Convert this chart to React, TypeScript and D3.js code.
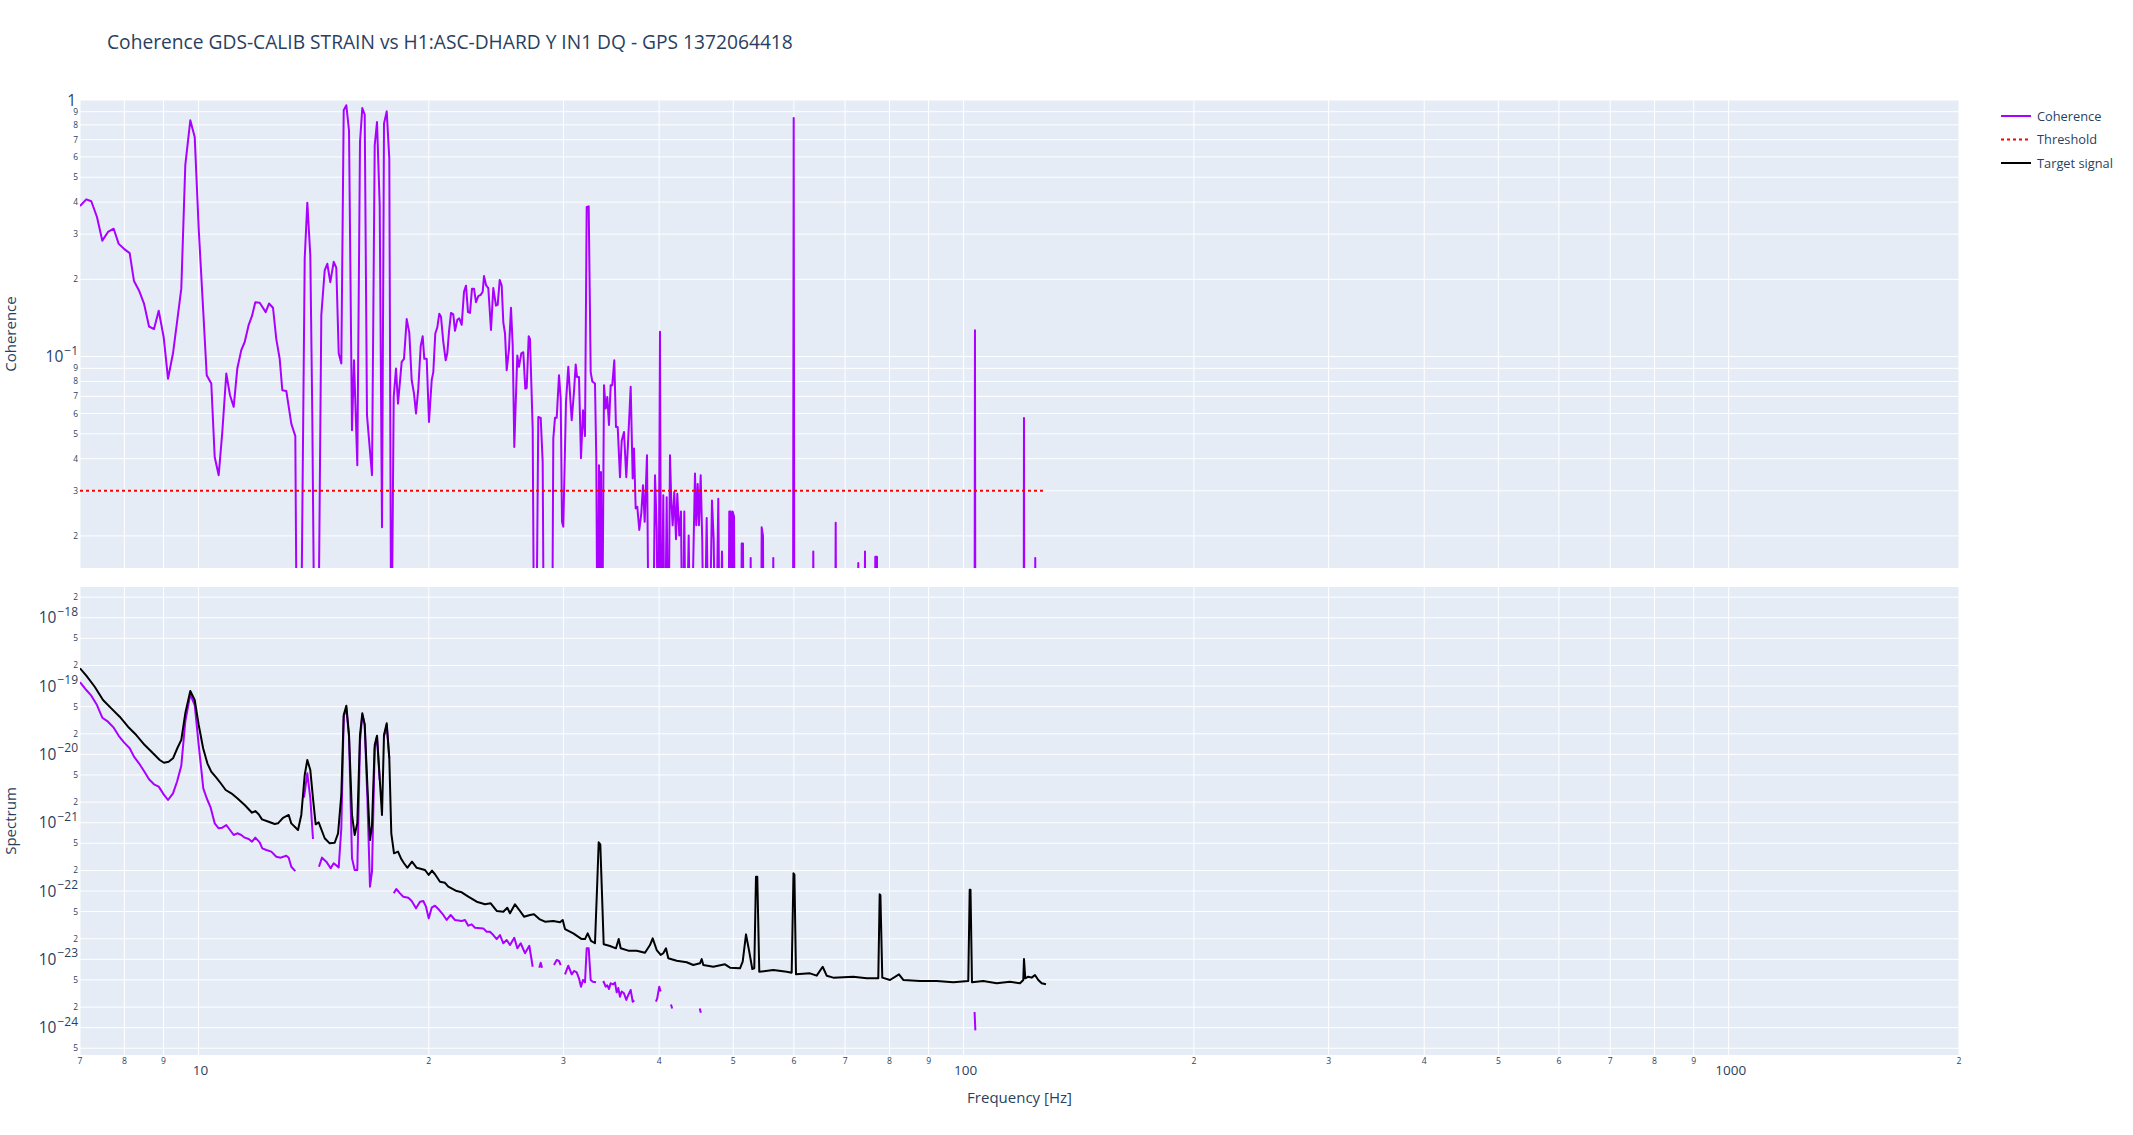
import React from "react";
import * as d3 from "d3";

const W = 2133;
const H = 1135;
const FONT = '"Open Sans", verdana, arial, sans-serif';
const TEXT = "#2a3f5f";
const PURPLE = "#aa00ff";
const BG = "#e5ecf6";

const titleText = "Coherence GDS-CALIB STRAIN vs H1:ASC-DHARD Y IN1 DQ - GPS 1372064418";
const xTitle = "Frequency [Hz]";
const cohTitle = "Coherence";
const specTitle = "Spectrum";
const legendLabels = ["Coherence", "Threshold", "Target signal"];

const threshold = 0.03;
const LOW = 0.005; // below the visible coherence range

// [frequency Hz, coherence]
const cohPoints: [number, number][] = [
  [7.0, 0.386], [7.134, 0.41], [7.242, 0.403], [7.367, 0.35], [7.486, 0.283], [7.615, 0.306], [7.747, 0.315],
  [7.865, 0.275], [7.991, 0.263], [8.129, 0.253], [8.235, 0.197], [8.36, 0.181], [8.487, 0.161], [8.616, 0.131],
  [8.746, 0.128], [8.871, 0.151], [9.005, 0.119], [9.123, 0.082], [9.261, 0.103], [9.373, 0.136], [9.495, 0.184],
  [9.61, 0.557], [9.756, 0.833], [9.886, 0.718], [10.006, 0.315], [10.145, 0.149], [10.25, 0.0846], [10.392, 0.0785],
  [10.499, 0.0406], [10.626, 0.0345], [10.742, 0.0508], [10.872, 0.0859], [10.994, 0.0707], [11.117, 0.0637],
  [11.238, 0.0898], [11.374, 0.106], [11.491, 0.114], [11.631, 0.133], [11.747, 0.144], [11.864, 0.163],
  [12.022, 0.162], [12.241, 0.149], [12.363, 0.161], [12.513, 0.155], [12.638, 0.117], [12.768, 0.098],
  [12.868, 0.074], [13.024, 0.0735], [13.221, 0.0548], [13.382, 0.049], [13.45, LOW], [13.601, LOW],
  [13.766, 0.241], [13.874, 0.398], [14.0, 0.248], [14.084, 0.059], [14.186, LOW], [14.328, LOW], [14.471, 0.145],
  [14.62, 0.217], [14.734, 0.23], [14.868, 0.195], [15.021, 0.234], [15.139, 0.222], [15.249, 0.103], [15.369, 0.094],
  [15.48, 0.912], [15.602, 0.954], [15.729, 0.762], [15.871, 0.0516], [15.967, 0.0967], [16.127, 0.0377],
  [16.258, 0.686], [16.371, 0.93], [16.49, 0.877], [16.604, 0.059], [16.856, 0.0345], [16.994, 0.666],
  [17.112, 0.821], [17.251, 0.389], [17.371, 0.0216], [17.476, 0.809], [17.619, 0.903], [17.757, 0.591],
  [17.864, LOW], [17.994, 0.0696], [18.119, 0.0898], [18.228, 0.0656], [18.432, 0.0954], [18.56, 0.098],
  [18.712, 0.14], [18.858, 0.124], [18.995, 0.0809], [19.127, 0.0718], [19.243, 0.06], [19.376, 0.075],
  [19.517, 0.11], [19.634, 0.12], [19.729, 0.098], [19.872, 0.098], [20.01, 0.0556], [20.174, 0.081],
  [20.271, 0.087], [20.393, 0.123], [20.517, 0.13], [20.64, 0.147], [20.746, 0.143], [20.89, 0.114],
  [21.042, 0.0967], [21.143, 0.103], [21.252, 0.125], [21.38, 0.148], [21.528, 0.146], [21.639, 0.126],
  [21.789, 0.139], [21.921, 0.141], [22.08, 0.133], [22.233, 0.179], [22.367, 0.189], [22.502, 0.149],
  [22.638, 0.148], [22.775, 0.184], [22.912, 0.184], [23.05, 0.163], [23.211, 0.172], [23.379, 0.174],
  [23.52, 0.179], [23.612, 0.206], [23.755, 0.19], [23.92, 0.185], [24.115, 0.127], [24.283, 0.185],
  [24.481, 0.158], [24.606, 0.159], [24.755, 0.199], [24.904, 0.189], [25.025, 0.136], [25.153, 0.123],
  [25.282, 0.0885], [25.457, 0.107], [25.611, 0.155], [25.742, 0.111], [25.867, 0.0444], [26.101, 0.101],
  [26.235, 0.0912], [26.417, 0.103], [26.577, 0.104], [26.737, 0.075], [26.85, 0.0754], [27.012, 0.12],
  [27.118, 0.117], [27.339, 0.0524], [27.471, LOW], [27.612, LOW], [27.804, 0.0582], [28.006, 0.0577],
  [28.175, 0.0388], [28.285, LOW], [28.975, LOW], [29.088, 0.0479], [29.237, 0.0577], [29.387, 0.0577],
  [29.592, 0.0846], [29.743, 0.0686], [29.86, 0.0227], [29.977, 0.0217], [30.222, 0.0665], [30.432, 0.0912],
  [30.745, 0.0565], [30.958, 0.073], [31.117, 0.0932], [31.239, 0.0833], [31.427, 0.0833], [31.617, 0.0402],
  [31.808, 0.0618], [32.0, 0.049], [32.164, 0.383], [32.358, 0.385], [32.553, 0.087], [32.711, 0.08],
  [32.977, 0.0785], [33.107, 0.04], [33.24, LOW], [33.377, 0.0377], [33.48, LOW], [33.578, 0.0355], [33.68, LOW],
  [33.883, 0.0774], [34.056, 0.0627], [34.221, 0.0696], [34.396, 0.0541], [34.573, 0.0774], [34.739, 0.0774],
  [34.949, 0.0967], [35.128, 0.0532], [35.309, 0.0532], [35.554, 0.0339], [35.736, 0.047], [35.984, 0.0508],
  [36.234, 0.0339], [36.42, 0.0457], [36.717, 0.0763], [36.939, 0.0335], [37.084, 0.0438], [37.274, 0.0256],
  [37.454, 0.026], [37.68, 0.0211], [37.908, 0.0245], [38.102, 0.0315], [38.298, 0.0227], [38.564, 0.0413],
  [38.797, LOW], [39.231, LOW], [39.504, 0.0345], [39.706, 0.0214], [39.898, LOW], [40.102, 0.125], [40.259, LOW],
  [40.502, 0.0288], [40.673, LOW], [40.919, 0.0283], [41.116, LOW], [41.327, 0.0413], [41.489, 0.0272],
  [41.664, 0.022], [41.865, 0.0297], [42.08, 0.0194], [42.245, 0.0292], [42.5, 0.0201], [42.718, 0.0249],
  [42.937, LOW], [43.145, 0.0249], [43.366, LOW], [43.72, 0.0201], [43.984, LOW], [44.557, 0.035], [44.731, 0.022],
  [44.92, 0.0319], [45.096, 0.022], [45.327, 0.0345], [45.546, 0.0189], [45.78, LOW], [46.153, 0.0235],
  [46.474, LOW], [46.895, 0.0275], [47.136, 0.0194], [47.42, LOW], [47.793, 0.0279], [48.038, LOW],
  [48.328, 0.0174], [48.62, LOW], [49.253, LOW], [49.4, 0.0249], [49.6, 0.0249], [49.8, LOW], [49.9, 0.0249],
  [50.105, 0.0238], [50.25, LOW], [51.17, LOW], [51.28, 0.0187], [51.481, 0.0187], [51.64, LOW], [52.56, LOW],
  [52.688, 0.0164], [52.81, LOW], [54.34, LOW], [54.462, 0.0216], [54.676, 0.02], [54.8, LOW], [56.27, LOW],
  [56.397, 0.0164], [56.52, LOW], [59.84, LOW], [59.968, 0.851], [60.09, LOW], [63.49, LOW], [63.612, 0.0174],
  [63.74, LOW], [67.92, LOW], [68.049, 0.0225], [68.18, LOW], [72.71, LOW], [72.838, 0.0157], [72.97, LOW],
  [74.2, LOW], [74.322, 0.0174], [74.45, LOW], [76.54, LOW], [76.662, 0.0166], [77.055, 0.0166], [77.18, LOW],
  [103.35, LOW], [103.48, 0.1266], [103.61, LOW], [119.8, LOW], [119.93, 0.0576], [120.06, LOW], [123.94, LOW],
  [124.07, 0.0164], [124.2, LOW], [128.135, LOW],
];

// [frequency Hz, target signal spectrum]
const targetPoints: [number, number][] = [
  [7.0, 1.82e-19], [7.134, 1.42e-19], [7.317, 9.77e-20], [7.502, 6.25e-20], [7.691, 4.72e-20], [7.888, 3.56e-20],
  [8.088, 2.54e-20], [8.292, 1.92e-20], [8.505, 1.37e-20], [8.72, 1.04e-20], [8.898, 8.28e-21], [9.013, 7.55e-21],
  [9.142, 7.82e-21], [9.261, 8.77e-21], [9.382, 1.23e-20], [9.495, 1.63e-20], [9.61, 3.99e-20], [9.756, 8.47e-20],
  [9.886, 6.25e-20], [10.006, 2.69e-20], [10.14, 1.23e-20], [10.27, 7.4e-21], [10.39, 5.58e-21], [10.55, 4.56e-21],
  [10.691, 3.78e-21], [10.852, 3.01e-21], [11.037, 2.69e-21], [11.238, 2.28e-21], [11.491, 1.82e-21],
  [11.747, 1.4e-21], [11.864, 1.48e-21], [11.985, 1.33e-21], [12.105, 1.12e-21], [12.326, 1.04e-21],
  [12.577, 9.57e-22], [12.702, 9.79e-22], [12.895, 1.18e-21], [13.118, 1.3e-21], [13.221, 9.79e-22],
  [13.491, 7.82e-22], [13.625, 1.3e-21], [13.766, 4.99e-21], [13.874, 8.28e-21], [14.0, 5.9e-21], [14.113, 2.28e-21],
  [14.228, 9.48e-22], [14.357, 1.01e-21], [14.62, 5.92e-22], [14.841, 4.99e-22], [15.066, 5.09e-22],
  [15.22, 7.0e-22], [15.369, 2.55e-21], [15.48, 3.77e-20], [15.602, 5.16e-20], [15.729, 1.92e-20], [15.871, 1.3e-21],
  [16.0, 6.61e-22], [16.127, 9.79e-22], [16.258, 1.92e-20], [16.371, 3.99e-20], [16.49, 2.75e-20], [16.622, 3.56e-21],
  [16.754, 5.58e-22], [16.856, 9.25e-22], [16.994, 1.37e-20], [17.112, 1.87e-20], [17.251, 4.47e-21],
  [17.371, 1.3e-21], [17.476, 1.92e-20], [17.619, 2.85e-20], [17.757, 8.77e-21], [17.864, 7.0e-22],
  [18.01, 3.56e-22], [18.23, 3.77e-22], [18.41, 2.94e-22], [18.56, 2.55e-22], [18.745, 2.19e-22], [19.012, 2.69e-22],
  [19.283, 2.19e-22], [19.771, 2.03e-22], [19.992, 1.72e-22], [20.192, 1.99e-22], [20.375, 1.76e-22],
  [20.684, 1.37e-22], [20.998, 1.32e-22], [21.207, 1.16e-22], [21.75, 1.0e-22], [22.08, 9.57e-23], [22.522, 8.26e-23],
  [23.099, 6.98e-23], [23.684, 6.4e-23], [24.094, 6.61e-23], [24.532, 5.11e-23], [25.025, 4.98e-23],
  [25.327, 5.7e-23], [25.534, 4.72e-23], [25.921, 6.4e-23], [26.259, 5.27e-23], [26.633, 4.21e-23],
  [27.118, 4.46e-23], [27.447, 4.56e-23], [27.888, 3.89e-23], [28.37, 3.56e-23], [29.088, 3.64e-23],
  [29.681, 3.48e-23], [29.924, 3.77e-23], [30.131, 2.78e-23], [30.893, 2.4e-23], [31.684, 1.98e-23],
  [32.0, 1.98e-23], [32.261, 2.4e-23], [32.583, 1.86e-23], [32.977, 1.72e-23], [33.206, 1.37e-22],
  [33.346, 5.16e-22], [33.507, 4.83e-22], [33.649, 1.22e-22], [33.852, 1.66e-23], [34.5, 1.57e-23],
  [35.128, 1.45e-23], [35.415, 1.98e-23], [35.629, 1.45e-23], [36.453, 1.34e-23], [37.386, 1.34e-23],
  [38.332, 1.25e-23], [38.913, 1.62e-23], [39.231, 2.03e-23], [39.706, 1.37e-23], [40.187, 1.16e-23],
  [40.502, 1.23e-23], [40.833, 1.45e-23], [41.116, 1.04e-23], [42.169, 9.55e-24], [43.457, 9.06e-24],
  [44.33, 8.26e-24], [45.232, 8.75e-24], [45.465, 1.01e-23], [45.684, 8.26e-24], [47.08, 7.8e-24],
  [48.767, 8.45e-24], [49.506, 7.55e-24], [51.019, 7.4e-24], [51.435, 9.25e-24], [51.95, 2.32e-23],
  [52.466, 1.29e-23], [52.942, 7.23e-24], [53.261, 7.4e-24], [53.535, 1.62e-22], [53.745, 1.62e-22],
  [54.069, 6.59e-24], [56.396, 6.98e-24], [58.717, 6.59e-24], [59.607, 6.38e-24], [59.93, 1.82e-22],
  [60.1, 1.74e-22], [60.383, 6.04e-24], [62.981, 6.24e-24], [64.264, 5.77e-24], [65.435, 7.8e-24],
  [66.228, 5.77e-24], [67.557, 5.4e-24], [71.748, 5.57e-24], [74.7, 5.27e-24], [77.354, 5.27e-24],
  [77.681, 8.95e-23], [77.85, 8.71e-23], [78.291, 5.4e-24], [80.126, 4.99e-24], [82.326, 6.04e-24],
  [83.398, 4.99e-24], [87.696, 4.82e-24], [92.216, 4.82e-24], [96.94, 4.61e-24], [101.417, 4.82e-24],
  [101.85, 1.04e-22], [102.1, 1.04e-22], [102.553, 4.61e-24], [106.1, 4.82e-24], [110.467, 4.46e-24],
  [114.978, 4.71e-24], [118.491, 4.46e-24], [119.674, 4.99e-24], [119.93, 1.01e-23], [120.396, 5.27e-24],
  [121.488, 5.57e-24], [122.737, 5.4e-24], [123.962, 5.9e-24], [125.199, 4.99e-24], [126.487, 4.46e-24],
  [128.135, 4.31e-24],
];

// [frequency Hz, coherent projection]; null = coherence below threshold
const projPoints: [number, number | null][] = [
  [7.0, 1.14e-19], [7.134, 8.75e-20], [7.242, 7.23e-20], [7.367, 5.28e-20], [7.486, 3.44e-20], [7.615, 3.01e-20],
  [7.747, 2.46e-20], [7.865, 1.87e-20], [7.991, 1.5e-20], [8.129, 1.23e-20], [8.235, 9.27e-21], [8.36, 7.4e-21],
  [8.487, 5.71e-21], [8.616, 4.32e-21], [8.746, 3.65e-21], [8.871, 3.37e-21], [9.005, 2.6e-21], [9.123, 2.15e-21],
  [9.261, 2.69e-21], [9.373, 3.98e-21], [9.495, 6.82e-21], [9.61, 3.01e-20], [9.756, 7.59e-20], [9.886, 5.28e-20],
  [10.006, 1.37e-20], [10.145, 3.18e-21], [10.25, 2.28e-21], [10.373, 1.66e-21], [10.499, 9.79e-22],
  [10.626, 8.28e-22], [10.742, 8.45e-22], [10.872, 9.25e-22], [10.994, 7.82e-22], [11.117, 6.61e-22],
  [11.238, 7.0e-22], [11.374, 6.61e-22], [11.491, 6.04e-22], [11.631, 5.77e-22], [11.747, 5.27e-22],
  [11.864, 6.04e-22], [12.022, 5.16e-22], [12.116, 4.22e-22], [12.263, 3.99e-22], [12.449, 3.77e-22],
  [12.638, 3.18e-22], [12.806, 3.08e-22], [13.024, 3.29e-22], [13.118, 3.08e-22], [13.221, 2.27e-22],
  [13.382, 1.96e-22], [13.5, null], [13.736, 2.32e-21], [13.874, 5.28e-21], [14.0, 2.28e-21], [14.113, 5.77e-22],
  [14.25, null], [14.37, 2.27e-22], [14.501, 3.08e-22], [14.69, 2.69e-22], [14.885, 2.15e-22], [15.021, 2.55e-22],
  [15.249, 2.22e-22], [15.369, 8.28e-22], [15.48, 3.56e-20], [15.602, 4.82e-20], [15.729, 1.82e-20],
  [15.871, 3.01e-22], [16.0, 2.03e-22], [16.127, 2.03e-22], [16.258, 1.53e-20], [16.371, 3.77e-20],
  [16.49, 2.69e-20], [16.622, 2.28e-21], [16.754, 1.16e-22], [16.856, 1.92e-22], [16.994, 1.23e-20],
  [17.112, 1.82e-20], [17.251, 4.22e-21], [17.37, null], [17.476, 1.82e-20], [17.619, 2.69e-20], [17.757, 8.77e-21],
  [17.87, null], [17.994, 9.25e-23], [18.135, 1.07e-22], [18.338, 9.25e-23], [18.521, 8.26e-23], [18.802, 7.98e-23],
  [18.995, 7.14e-23], [19.243, 5.58e-23], [19.476, 6.98e-23], [19.67, 7.14e-23], [19.83, 5.9e-23],
  [19.992, 3.98e-23], [20.174, 5.7e-23], [20.375, 6.1e-23], [20.64, 5.27e-23], [20.89, 4.46e-23],
  [21.105, 3.77e-23], [21.361, 4.46e-23], [21.639, 3.77e-23], [22.08, 3.64e-23], [22.3, 3.77e-23],
  [22.522, 3.11e-23], [22.754, 3.25e-23], [22.981, 2.9e-23], [23.562, 2.84e-23], [23.805, 2.54e-23],
  [24.043, 2.54e-23], [24.283, 2.27e-23], [24.532, 1.98e-23], [24.777, 2.27e-23], [25.025, 1.72e-23],
  [25.282, 1.92e-23], [25.534, 1.62e-23], [25.867, 2.07e-23], [26.101, 1.45e-23], [26.37, 1.72e-23],
  [26.713, 1.23e-23], [27.062, 1.58e-23], [27.339, 7.8e-24], [27.5, null], [27.888, 7.55e-24], [28.006, 8.93e-24],
  [28.116, 7.55e-24], [28.6, null], [29.15, 8.26e-24], [29.387, 9.77e-24], [29.592, 9.46e-24], [29.743, 8.26e-24],
  [29.9, null], [30.131, 6.04e-24], [30.432, 8.07e-24], [30.745, 6.04e-24], [30.958, 6.76e-24], [31.21, 6.46e-24],
  [31.427, 5.27e-24], [31.617, 3.98e-24], [31.808, 4.99e-24], [32.0, 4.61e-24], [32.164, 1.45e-23],
  [32.358, 1.45e-23], [32.553, 4.99e-24], [32.75, 4.71e-24], [33.076, 4.61e-24], [33.4, null], [33.811, 4.82e-24],
  [34.056, 3.98e-24], [34.221, 4.17e-24], [34.396, 3.68e-24], [34.573, 4.46e-24], [34.844, 4.31e-24],
  [35.023, 4.57e-24], [35.203, 3.29e-24], [35.372, 3.8e-24], [35.554, 2.84e-24], [35.736, 3.39e-24],
  [35.984, 3.18e-24], [36.234, 2.54e-24], [36.42, 2.95e-24], [36.717, 3.56e-24], [36.939, 2.4e-24],
  [37.118, 2.51e-24], [37.3, null], [39.614, 2.4e-24], [39.77, 2.69e-24], [40.01, 3.98e-24], [40.187, 3.39e-24],
  [40.4, null], [41.45, 2.19e-24], [41.6, 1.91e-24], [41.8, null], [45.2, 1.91e-24], [45.35, 1.66e-24], [45.6, null],
  [103.36, 1.7e-24], [103.6, 9.12e-25], [104.0, null],
];

const xTickValues = [7, 8, 9, 10, 20, 30, 40, 50, 60, 70, 80, 90, 100, 200, 300, 400, 500, 600, 700, 800, 900, 1000, 2000];
const cohTickValues = [0.02, 0.03, 0.04, 0.05, 0.06, 0.07, 0.08, 0.09, 0.1, 0.2, 0.3, 0.4, 0.5, 0.6, 0.7, 0.8, 0.9, 1];
const specTickValues = [
  5e-25, 1e-24, 2e-24, 5e-24, 1e-23, 2e-23, 5e-23, 1e-22, 2e-22, 5e-22, 1e-21, 2e-21, 5e-21,
  1e-20, 2e-20, 5e-20, 1e-19, 2e-19, 5e-19, 1e-18, 2e-18,
];

const PL = 80;
const PR = 1959;
const TOP = { y0: 100, y1: 568 };
const BOT = { y0: 587, y1: 1055 };

const x = d3.scaleLog().domain([7, 2000]).range([PL, PR]);
const yCoh = d3.scaleLog().domain([0.015, 1]).range([TOP.y1, TOP.y0]);
const ySpec = d3.scaleLog().domain([Math.pow(10, -24.4), Math.pow(10, -17.55)]).range([BOT.y1, BOT.y0]);

function decomp(v: number) {
  const e = Math.floor(Math.log10(v) + 1e-9);
  const m = Math.round(v / Math.pow(10, e));
  return { e, m };
}

function YLabel({ v, y }: { v: number; y: number }) {
  const { e, m } = decomp(v);
  if (m === 1) {
    if (e === 0) {
      return (
        <text x={76} y={y + 5.5} textAnchor="end" fontSize={15.5} fill={TEXT} fontFamily={FONT}>1</text>
      );
    }
    return (
      <text x={78} y={y + 5.5} textAnchor="end" fontSize={15.5} fill={TEXT} fontFamily={FONT}>
        10
        <tspan dx={1} dy={-7.5} fontSize={12}>{"\u2212" + Math.abs(e)}</tspan>
      </text>
    );
  }
  return (
    <text x={78} y={y + 3} textAnchor="end" fontSize={8.4} fill={TEXT} fontFamily={FONT}>
      {String(m)}
    </text>
  );
}

function XLabel({ v }: { v: number }) {
  const { m } = decomp(v);
  const xp = x(v);
  if (m === 1) {
    return (
      <text x={xp + 2} y={1074.5} textAnchor="middle" fontSize={13.5} fill={TEXT} fontFamily={FONT}>{String(v)}</text>
    );
  }
  return (
    <text x={xp} y={1064} textAnchor="middle" fontSize={8.6} fill={TEXT} fontFamily={FONT}>{String(m)}</text>
  );
}

export default function App() {
  const cohLine = d3
    .line<[number, number]>()
    .x((d) => x(d[0]))
    .y((d) => yCoh(d[1]));
  const specLine = d3
    .line<[number, number | null]>()
    .defined((d) => d[1] !== null)
    .x((d) => x(d[0]))
    .y((d) => ySpec(d[1] as number));

  const fStart = cohPoints[0][0];
  const fEnd = cohPoints[cohPoints.length - 1][0];

  const legendY = [116, 139.5, 163];

  return (
    <svg
      width={W}
      height={H}
      style={{ position: "absolute", left: 0, top: 0, background: "#fff" }}
      xmlns="http://www.w3.org/2000/svg"
    >
      <defs>
        <clipPath id="clipTop">
          <rect x={PL} y={TOP.y0} width={PR - PL} height={TOP.y1 - TOP.y0} />
        </clipPath>
        <clipPath id="clipBot">
          <rect x={PL} y={BOT.y0} width={PR - PL} height={BOT.y1 - BOT.y0} />
        </clipPath>
      </defs>
      <rect x={0} y={0} width={W} height={H} fill="#fff" />

      {/* panels */}
      <rect x={PL} y={TOP.y0} width={PR - PL} height={TOP.y1 - TOP.y0} fill={BG} />
      <rect x={PL} y={BOT.y0} width={PR - PL} height={BOT.y1 - BOT.y0} fill={BG} />

      {/* grid */}
      <g stroke="#fff" strokeWidth={1}>
        {xTickValues.map((v) => (
          <g key={"gx" + v}>
            <line x1={x(v)} x2={x(v)} y1={TOP.y0} y2={TOP.y1} />
            <line x1={x(v)} x2={x(v)} y1={BOT.y0} y2={BOT.y1} />
          </g>
        ))}
        {cohTickValues.map((v) => (
          <line key={"gc" + v} x1={PL} x2={PR} y1={yCoh(v)} y2={yCoh(v)} />
        ))}
        {specTickValues.map((v) => (
          <line key={"gs" + v} x1={PL} x2={PR} y1={ySpec(v)} y2={ySpec(v)} />
        ))}
      </g>

      {/* top: coherence */}
      <g clipPath="url(#clipTop)">
        <path d={cohLine(cohPoints) || ""} fill="none" stroke={PURPLE} strokeWidth={2} strokeLinejoin="round" />
        <line
          x1={x(fStart)}
          x2={x(fEnd)}
          y1={yCoh(threshold)}
          y2={yCoh(threshold)}
          stroke="red"
          strokeWidth={2}
          strokeDasharray="3,3"
        />
      </g>

      {/* bottom: spectra */}
      <g clipPath="url(#clipBot)">
        <path d={specLine(projPoints) || ""} fill="none" stroke={PURPLE} strokeWidth={2} strokeLinejoin="round" />
        <path d={specLine(targetPoints) || ""} fill="none" stroke="#000" strokeWidth={2} strokeLinejoin="round" />
      </g>

      {/* tick labels */}
      {cohTickValues.map((v) => (
        <YLabel key={"lc" + v} v={v} y={yCoh(v)} />
      ))}
      {specTickValues.map((v) => (
        <YLabel key={"ls" + v} v={v} y={ySpec(v)} />
      ))}
      {xTickValues.map((v) => (
        <XLabel key={"lx" + v} v={v} />
      ))}

      {/* titles */}
      <text x={107} y={49} fontSize={19.2} fill={TEXT} fontFamily={FONT}>{titleText}</text>
      <text x={(PL + PR) / 2} y={1103} textAnchor="middle" fontSize={15} fill={TEXT} fontFamily={FONT}>{xTitle}</text>
      <text
        transform={`translate(16,${(TOP.y0 + TOP.y1) / 2}) rotate(-90)`}
        textAnchor="middle"
        fontSize={15}
        fill={TEXT}
        fontFamily={FONT}
      >
        {cohTitle}
      </text>
      <text
        transform={`translate(16,${(BOT.y0 + BOT.y1) / 2}) rotate(-90)`}
        textAnchor="middle"
        fontSize={15}
        fill={TEXT}
        fontFamily={FONT}
      >
        {specTitle}
      </text>

      {/* legend */}
      <g fontFamily={FONT} fontSize={12.8} fill={TEXT}>
        <line x1={2001} x2={2031} y1={legendY[0]} y2={legendY[0]} stroke={PURPLE} strokeWidth={2} />
        <text x={2037} y={legendY[0] + 4.5}>{legendLabels[0]}</text>
        <line x1={2001} x2={2031} y1={legendY[1]} y2={legendY[1]} stroke="red" strokeWidth={2} strokeDasharray="3,3" />
        <text x={2037} y={legendY[1] + 4.5}>{legendLabels[1]}</text>
        <line x1={2001} x2={2031} y1={legendY[2]} y2={legendY[2]} stroke="#000" strokeWidth={2} />
        <text x={2037} y={legendY[2] + 4.5}>{legendLabels[2]}</text>
      </g>
    </svg>
  );
}
